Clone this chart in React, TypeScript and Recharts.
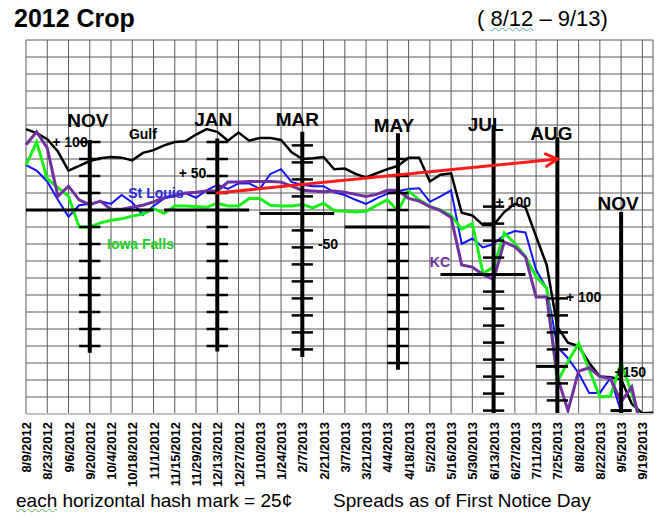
import React from 'react';
import {
  LineChart,
  Line,
  XAxis,
  YAxis,
  CartesianGrid,
  ReferenceLine,
  ReferenceDot,
} from 'recharts';

// weekly categories (cash spread vs futures, cents)
const weeks = [
  '8/9/2012', '8/16/2012', '8/23/2012', '8/30/2012', '9/6/2012', '9/13/2012', '9/20/2012', '9/27/2012',
  '10/4/2012', '10/11/2012', '10/18/2012', '10/25/2012', '11/1/2012', '11/8/2012', '11/15/2012', '11/22/2012',
  '11/29/2012', '12/6/2012', '12/13/2012', '12/20/2012', '12/27/2012', '1/3/2013', '1/10/2013', '1/17/2013',
  '1/24/2013', '1/31/2013', '2/7/2013', '2/14/2013', '2/21/2013', '2/28/2013', '3/7/2013', '3/14/2013',
  '3/21/2013', '3/28/2013', '4/4/2013', '4/11/2013', '4/18/2013', '4/25/2013', '5/2/2013', '5/9/2013',
  '5/16/2013', '5/23/2013', '5/30/2013', '6/6/2013', '6/13/2013', '6/20/2013', '6/27/2013', '7/4/2013',
  '7/11/2013', '7/18/2013', '7/25/2013', '8/1/2013', '8/8/2013', '8/15/2013', '8/22/2013', '8/29/2013',
  '9/5/2013', '9/12/2013', '9/19/2013', '9/26/2013',
];

// labelled every other week
const tickWeeks = [
  '8/9/2012', '8/23/2012', '9/6/2012', '9/20/2012', '10/4/2012', '10/18/2012', '11/1/2012', '11/15/2012',
  '11/29/2012', '12/13/2012', '12/27/2012', '1/10/2013', '1/24/2013', '2/7/2013', '2/21/2013', '3/7/2013',
  '3/21/2013', '4/4/2013', '4/18/2013', '5/2/2013', '5/16/2013', '5/30/2013', '6/13/2013', '6/27/2013',
  '7/11/2013', '7/25/2013', '8/8/2013', '8/22/2013', '9/5/2013', '9/19/2013',
];

const gulf = [
  419, 413, 404, 386, 358, 365, 372, 376, 378, 377,
  373, 384, 388, 395, 400, 401, 411, 419, 415, 402,
  414, 402, 406, 406, 403, 385, 375, 376, 378, 360,
  361, 353, 348, 354, 360, 365, 377, 377, 342, 352,
  354, 296, 292, 278, 278, 297, 309, 304, 261, 219,
  128, 105, 100, 75, 55, 54, 51, 15, 1, 2,
];

const stLouis = [
  366, 358, 342, 315, 290, 307, 309, 313, 309, 322,
  311, 293, 306, 317, 322, 325, 318, 329, 337, 331,
  339, 339, 331, 353, 360, 341, 337, 335, 335, 326,
  322, 315, 309, 317, 324, 328, 331, 332, 312, 320,
  329, 250, 258, 245, 250, 263, 269, 267, 212, 184,
  99, 82, 60, 31, 31, 53, 3, -30, -60, -80,
];

const iowaFalls = [
  366, 400, 346, 333, 320, 275, 275, 281, 285, 287,
  291, 294, 302, 295, 306, 306, 305, 304, 310, 306,
  306, 317, 317, 307, 306, 306, 308, 303, 310, 299,
  298, 297, 298, 307, 315, 299, 328, 315, 305, 300,
  292, 272, 280, 207, 216, 266, 251, 231, 202, 185,
  47, 77, 104, 65, 25, 26, 75, 31, -20, -50,
];

const kc = [
  396, 415, 391, 320, 335, 315, 308, 313, 301, 301,
  304, 307, 312, 318, 321, 325, 326, 328, 328, 341,
  341, 342, 342, 342, 341, 335, 329, 328, 327, 328,
  326, 323, 320, 323, 329, 329, 317, 313, 305, 299,
  289, 219, 216, 205, 198, 253, 246, 231, 172, 172,
  55, 5, 63, 68, 55, 52, 18, 40, -30, -60,
];

// one grid line per 25 cents
const yMax = 550;
const yTicks = Array.from({ length: 23 }, (_, i) => i * 25);

const data = weeks.map((week, i) => ({
  week,
  gulf: gulf[i],
  stLouis: stLouis[i],
  iowaFalls: iowaFalls[i],
  kc: kc[i],
}));

// hand-drawn contract "rulers": hash mark every 25c around each base level
const rulers = [
  { week: '9/20/2012', top: 403, bottom: 90, base: 300, from: '8/9/2012', to: '11/1/2012', up: 4, down: 8 },
  { week: '12/13/2012', top: 405, bottom: 92, base: 300, from: '11/8/2012', to: '1/3/2013', up: 4, down: 8 },
  { week: '2/7/2013', top: 415, bottom: 84, base: 295, from: '1/10/2013', to: '2/28/2013', up: 4, down: 8 },
  { week: '4/11/2013', top: 413, bottom: 65, base: 275, from: '3/7/2013', to: '5/2/2013', up: 4, down: 8 },
  { week: '6/13/2013', top: 425, bottom: 0, base: 205, from: '5/9/2013', to: '7/4/2013', up: 4, down: 8 },
  { week: '7/25/2013', top: 407, bottom: 0, base: 70, from: '7/11/2013', to: '8/1/2013', up: 4, down: 2 },
  { week: '9/5/2013', top: 297, bottom: 0, base: 5, from: '8/29/2013', to: '9/12/2013', up: 0, down: 0 },
];

const monthLabels = [
  { week: '9/20/2012', y: 432, text: 'NOV', dx: -2 },
  { week: '12/13/2012', y: 434, text: 'JAN', dx: -4 },
  { week: '2/7/2013', y: 434, text: 'MAR', dx: -5 },
  { week: '4/11/2013', y: 425, text: 'MAY', dx: -4 },
  { week: '6/13/2013', y: 426, text: 'JUL', dx: -8 },
  { week: '7/25/2013', y: 413, text: 'AUG', dx: -6 },
  { week: '9/5/2013', y: 310, text: 'NOV', dx: -3 },
];

const noteLabels = [
  { week: '8/23/2012', y: 400, text: '+ 100', dx: 5, color: '#000', anchor: 'start' },
  { week: '11/15/2012', y: 354, text: '+ 50', dx: 4, color: '#000', anchor: 'start' },
  { week: '2/14/2013', y: 250, text: '-50', dx: 5, color: '#000', anchor: 'start' },
  { week: '6/13/2013', y: 312, text: '+ 100', dx: 2, color: '#000', anchor: 'start' },
  { week: '8/1/2013', y: 172, text: '+ 100', dx: -2, color: '#000', anchor: 'start' },
  { week: '8/29/2013', y: 62, text: '+150', dx: 4, color: '#000', anchor: 'start' },
  { week: '10/25/2012', y: 412, text: 'Gulf', dx: 0, color: '#000', anchor: 'middle' },
  { week: '10/18/2012', y: 325, text: 'St Louis', dx: -4, color: '#2626e6', anchor: 'start' },
  { week: '10/4/2012', y: 250, text: 'Iowa Falls', dx: -4, color: '#22cc22', anchor: 'start' },
  { week: '5/2/2013', y: 224, text: 'KC', dx: 0, color: '#7030a0', anchor: 'start' },
];

const FONT = '"Liberation Sans", Arial, sans-serif';

const WeekTick = (props: any) => {
  const { x, y, payload } = props;
  return (
    <text
      x={x + 5}
      y={y}
      transform={`rotate(-90, ${x + 5}, ${y})`}
      textAnchor="end"
      fontFamily={FONT}
      fontWeight="bold"
      fontSize={13}
      fill="#000"
    >
      {payload.value}
    </text>
  );
};

const Arrow = (props: any) => {
  const { x1, y1, x2, y2 } = props;
  const a = Math.atan2(y2 - y1, x2 - x1);
  const len = 13;
  const p1 = [x2 - len * Math.cos(a - 0.5), y2 - len * Math.sin(a - 0.5)];
  const p2 = [x2 - len * Math.cos(a + 0.5), y2 - len * Math.sin(a + 0.5)];
  return (
    <g stroke="#ff1a1a" strokeWidth={3} fill="none" strokeLinecap="round">
      <line x1={x1} y1={y1} x2={x2} y2={y2} />
      <polyline points={`${p1[0]},${p1[1]} ${x2},${y2} ${p2[0]},${p2[1]}`} />
    </g>
  );
};

// horizontal grid from the y scale (falls back to the plot box if no scale is passed)
const hGrid = ({ yAxis, offset }: any) =>
  yTicks.map((v) =>
    yAxis && typeof yAxis.scale === 'function'
      ? yAxis.scale(v)
      : offset.top + offset.height * (1 - v / yMax),
  );

const App = () => {
  const idx = (w: string) => weeks.indexOf(w);
  return (
    <div
      style={{
        position: 'absolute',
        left: 0,
        top: 0,
        width: 664,
        height: 527,
        background: '#fff',
        fontFamily: FONT,
      }}
    >
      <div style={{ position: 'absolute', left: 14, top: 4, fontSize: 25, fontWeight: 'bold', color: '#000' }}>
        2012 Crop
      </div>
      <div style={{ position: 'absolute', left: 477, top: 6, fontSize: 22, color: '#000' }}>
        ({' '}
        <span style={{ textDecoration: 'underline wavy #4aa8a0', textDecorationThickness: 1 }}>8/12</span> – 9/13)
      </div>

      <LineChart
        width={664}
        height={527}
        data={data}
        margin={{ top: 40, right: 11, left: 26, bottom: 23 }}
      >
        <CartesianGrid stroke="#5a5a5a" strokeWidth={1} horizontalCoordinatesGenerator={hGrid} />
        <XAxis
          dataKey="week"
          ticks={tickWeeks}
          interval={0}
          tickLine={false}
          tickSize={8}
          tickMargin={0}
          height={90}
          axisLine={{ stroke: '#c4c4c4', strokeWidth: 2 }}
          tick={<WeekTick />}
        />
        <YAxis
          width={0}
          domain={[0, yMax]}
          ticks={yTicks}
          interval={0}
          allowDataOverflow
          tick={false}
          tickLine={false}
          axisLine={false}
        />
        <Line dataKey="gulf" stroke="#000" strokeWidth={2.5} dot={false} isAnimationActive={false} />
        <Line dataKey="stLouis" stroke="#1212ff" strokeWidth={2} dot={false} isAnimationActive={false} />
        <Line dataKey="iowaFalls" stroke="#18ee18" strokeWidth={3} dot={false} isAnimationActive={false} />
        <Line dataKey="kc" stroke="#7030a0" strokeWidth={3} dot={false} isAnimationActive={false} />

        {rulers.map((r) => {
          const i = idx(r.week);
          const hashes: number[] = [];
          for (let k = 1; k <= r.up; k++) hashes.push(r.base + 25 * k);
          for (let k = 1; k <= r.down; k++) hashes.push(r.base - 25 * k);
          return (
            <React.Fragment key={r.week}>
              <ReferenceLine
                segment={[{ x: r.week, y: r.top }, { x: r.week, y: r.bottom }]}
                stroke="#000"
                strokeWidth={4}
                ifOverflow="visible"
              />
              <ReferenceLine
                segment={[{ x: r.from, y: r.base }, { x: r.to, y: r.base }]}
                stroke="#000"
                strokeWidth={3}
                ifOverflow="visible"
              />
              {hashes.map((h) => (
                <ReferenceLine
                  key={h}
                  segment={[{ x: weeks[i - 1], y: h }, { x: weeks[i + 1], y: h }]}
                  stroke="#000"
                  strokeWidth={2.5}
                  ifOverflow="visible"
                />
              ))}
            </React.Fragment>
          );
        })}

        <ReferenceLine
          segment={[{ x: '12/13/2012', y: 325 }, { x: '7/25/2013', y: 375 }]}
          shape={<Arrow />}
          ifOverflow="visible"
        />

        {monthLabels.map((m, k) => (
          <ReferenceDot
            key={'m' + k}
            x={m.week}
            y={m.y}
            r={0}
            ifOverflow="visible"
            shape={(p: any) => (
              <text
                x={p.cx + m.dx}
                y={p.cy}
                dy="0.35em"
                textAnchor="middle"
                fontFamily={FONT}
                fontWeight="bold"
                fontSize={19}
                fill="#000"
              >
                {m.text}
              </text>
            )}
          />
        ))}

        {noteLabels.map((n, k) => (
          <ReferenceDot
            key={'n' + k}
            x={n.week}
            y={n.y}
            r={0}
            ifOverflow="visible"
            shape={(p: any) => (
              <text
                x={p.cx + n.dx}
                y={p.cy}
                dy="0.35em"
                textAnchor={n.anchor}
                fontFamily={FONT}
                fontWeight="bold"
                fontSize={14}
                fill={n.color}
              >
                {n.text}
              </text>
            )}
          />
        ))}
      </LineChart>

      <div style={{ position: 'absolute', left: 16, top: 490, fontSize: 19, color: '#000', whiteSpace: 'nowrap' }}>
        <span style={{ textDecoration: 'underline wavy #5fae5f', textDecorationThickness: 1 }}>each</span> horizontal hash
        mark = 25¢
      </div>
      <div style={{ position: 'absolute', left: 333, top: 490, fontSize: 19, color: '#000', whiteSpace: 'nowrap' }}>
        Spreads as of First Notice Day
      </div>
    </div>
  );
};

export default App;
